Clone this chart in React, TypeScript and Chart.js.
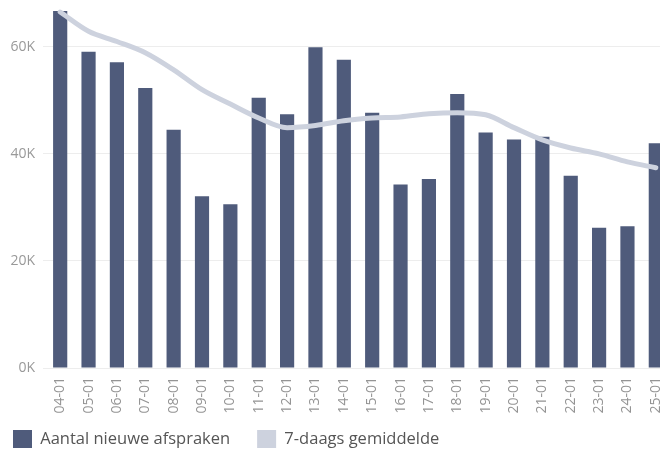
import React, { useEffect, useRef } from "react";
import { Chart, registerables } from "chart.js";

Chart.register(...registerables);

const categories = ["04-01","05-01","06-01","07-01","08-01","09-01","10-01","11-01","12-01","13-01","14-01","15-01","16-01","17-01","18-01","19-01","20-01","21-01","22-01","23-01","24-01","25-01"];
const newAppointments = [66700, 59100, 57100, 52300, 44500, 32100, 30600, 50500, 47400, 59900, 57600, 47700, 34300, 35300, 51200, 44000, 42700, 43200, 35900, 26200, 26500, 42000];
const sevenDayAvg = [66500, 62900, 61000, 58900, 55700, 52000, 49300, 46700, 44900, 45300, 46200, 46700, 46900, 47500, 47700, 47300, 44900, 42600, 41100, 40000, 38500, 37400];
const yTicks = [0, 20000, 40000, 60000];
const seriesNames = ["Aantal nieuwe afspraken", "7-daags gemiddelde"];

const BAR_COLOR = "#4f5b7b";
const LINE_COLOR = "#cdd2de";
const FONT = "'Open Sans', 'Noto Sans', sans-serif";
const LEGEND_PAD = 27;

export default function App() {
  const ref = useRef<HTMLCanvasElement | null>(null);
  useEffect(() => {
    if (!ref.current) return;
    const chart = new Chart(ref.current, {
      type: "bar",
      data: {
        labels: categories,
        datasets: [
          {
            type: "bar",
            label: seriesNames[0],
            data: newAppointments,
            backgroundColor: BAR_COLOR,
            borderWidth: 0,
            categoryPercentage: 1,
            barPercentage: 0.5,
            order: 1,
          },
          {
            type: "line",
            label: seriesNames[1],
            data: sevenDayAvg,
            borderColor: LINE_COLOR,
            backgroundColor: LINE_COLOR,
            borderWidth: 5,
            pointRadius: 0,
            cubicInterpolationMode: "monotone",
            borderCapStyle: "round",
            order: 0,
          } as any,
        ],
      },
      options: {
        responsive: false,
        animation: false,
        devicePixelRatio: 1,
        layout: { padding: { left: 13 - LEGEND_PAD, top: 4, right: 10, bottom: -6 } },
        plugins: {
          tooltip: { enabled: false },
          legend: {
            position: "bottom",
            align: "start",
            labels: {
              boxWidth: 19,
              boxHeight: 18,
              padding: LEGEND_PAD,
              color: "#555",
              font: { family: FONT, size: 16.5 },
              sort: (a: any, b: any) => a.datasetIndex - b.datasetIndex,
              generateLabels: (chart: any) =>
                Chart.defaults.plugins.legend.labels.generateLabels(chart).map((it: any) => ({
                  ...it,
                  lineWidth: 0,
                  strokeStyle: "rgba(0,0,0,0)",
                  fillStyle: it.datasetIndex === 0 ? BAR_COLOR : LINE_COLOR,
                })),
            },
          },
        },
        scales: {
          x: {
            grid: { display: false, drawTicks: false },
            border: { display: false },
            ticks: {
              minRotation: 90,
              maxRotation: 90,
              autoSkip: false,
              padding: 9,
              color: "#949494",
              font: { family: FONT, size: 14 },
            },
            afterFit: (s: any) => {
              s.height = 62 - LEGEND_PAD;
              s.paddingLeft = 0;
              s.paddingRight = 0;
              s._computeLabelArea = () => undefined;
            },
          },
          y: {
            min: 0,
            max: 68000,
            grid: { color: "#ededed", lineWidth: 1, drawTicks: true, tickLength: 3, tickColor: "#ededed" },
            border: { display: false },
            ticks: {
              padding: 8,
              color: "#999",
              font: { family: FONT, size: 14 },
              callback: (v: any) => v / 1000 + "K",
            },
            afterBuildTicks: (axis: any) => {
              axis.ticks = yTicks.map((v) => ({ value: v }));
            },
            afterFit: (s: any) => {
              s.width = 46 - (13 - LEGEND_PAD);
              s.paddingTop = 0;
              s.paddingBottom = 0;
            },
          },
        },
      },
    });
    return () => chart.destroy();
  }, []);
  return (
    <div style={{ position: "fixed", left: 0, top: 0, width: 660, height: 452, overflow: "hidden", background: "#fff" }}>
      <canvas ref={ref} width={680} height={452} style={{ display: "block", width: 680, height: 452 }} />
    </div>
  );
}
